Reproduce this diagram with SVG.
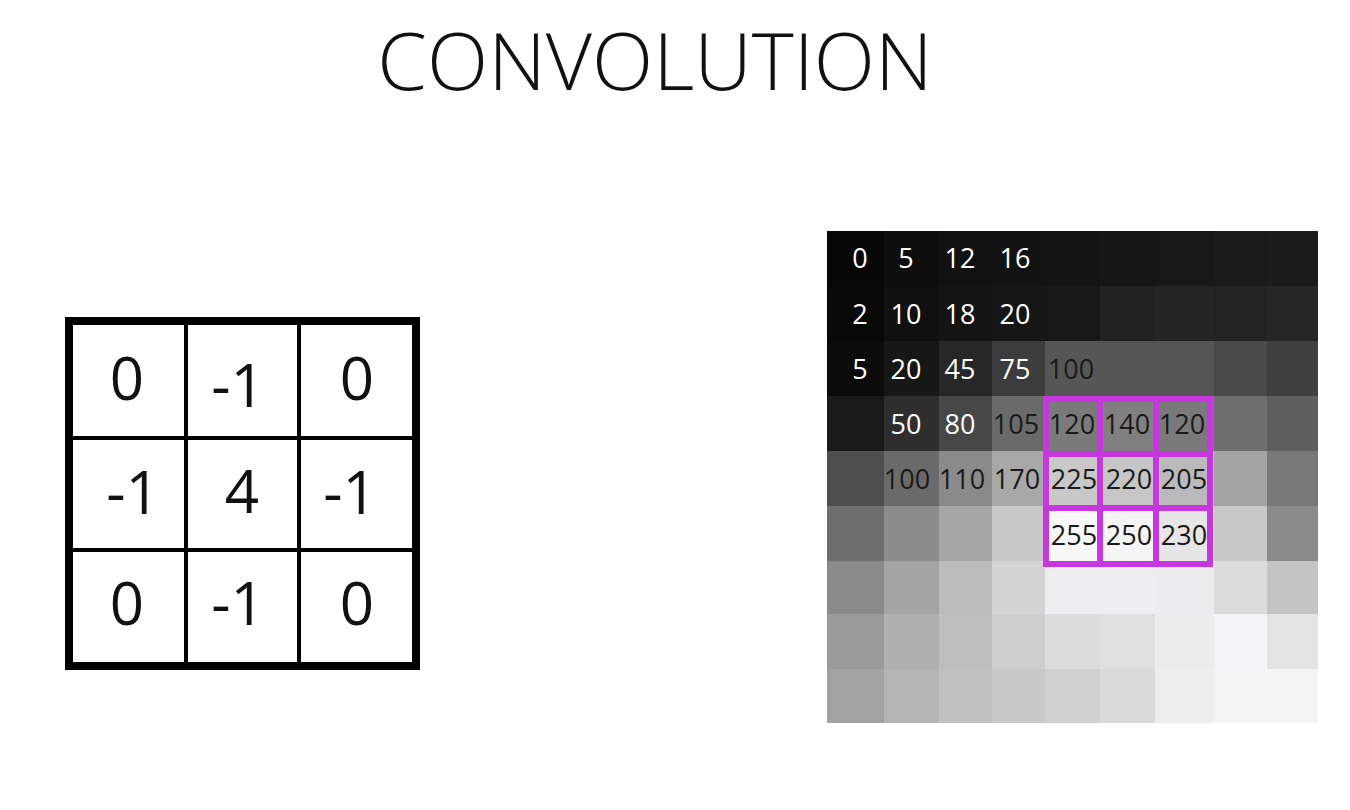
<svg xmlns="http://www.w3.org/2000/svg" width="1350" height="810" viewBox="0 0 1350 810">
<style>
.t{font-family:"Open Sans","Liberation Sans",sans-serif}
.title{font-size:80px;font-weight:300;fill:#111}
.k{font-size:60px;fill:#111;text-anchor:middle}
.n{font-size:27px;text-anchor:middle}
.w{fill:#ffffff}
.d{fill:#1a1a1a}
.kl{stroke:#000;stroke-width:4;fill:none}
.pl{stroke:#c737de;stroke-width:6;fill:none}
</style>
<rect width="1350" height="810" fill="#ffffff"/>
<text class="t title" x="655" y="90" text-anchor="middle">CONVOLUTION</text>

<g id="kernel">
<rect x="69" y="321" width="347" height="345" fill="#ffffff" stroke="#000" stroke-width="8"/>
<line class="kl" x1="186" y1="321" x2="186" y2="666"/>
<line class="kl" x1="299" y1="321" x2="299" y2="666"/>
<line class="kl" x1="69" y1="438" x2="416" y2="438"/>
<line class="kl" x1="69" y1="550" x2="416" y2="550"/>
<text class="t k" x="127" y="400">0</text>
<text class="t k" x="238" y="407">-1</text>
<text class="t k" x="357" y="400">0</text>
<text class="t k" x="133" y="514">-1</text>
<text class="t k" x="242" y="513">4</text>
<text class="t k" x="350" y="514">-1</text>
<text class="t k" x="127" y="625">0</text>
<text class="t k" x="238" y="625">-1</text>
<text class="t k" x="357" y="625">0</text>
</g>

<g id="image">
<g shape-rendering="crispEdges">
<!-- row 0 -->
<rect x="827" y="231" width="57" height="55" fill="#070707"/>
<rect x="884" y="231" width="55" height="55" fill="#0e0e0e"/>
<rect x="939" y="231" width="53" height="55" fill="#111111"/>
<rect x="992" y="231" width="53" height="55" fill="#131313"/>
<rect x="1045" y="231" width="55" height="55" fill="#141414"/>
<rect x="1100" y="231" width="55" height="55" fill="#161616"/>
<rect x="1155" y="231" width="59" height="55" fill="#181818"/>
<rect x="1214" y="231" width="53" height="55" fill="#1a1a1a"/>
<rect x="1267" y="231" width="51" height="55" fill="#1c1c1c"/>
<!-- row 1 -->
<rect x="827" y="286" width="57" height="55" fill="#080808"/>
<rect x="884" y="286" width="55" height="55" fill="#101010"/>
<rect x="939" y="286" width="53" height="55" fill="#141414"/>
<rect x="992" y="286" width="53" height="55" fill="#161616"/>
<rect x="1045" y="286" width="55" height="55" fill="#181818"/>
<rect x="1100" y="286" width="55" height="55" fill="#222222"/>
<rect x="1155" y="286" width="59" height="55" fill="#252525"/>
<rect x="1214" y="286" width="53" height="55" fill="#232323"/>
<rect x="1267" y="286" width="51" height="55" fill="#262626"/>
<!-- row 2 -->
<rect x="827" y="341" width="57" height="55" fill="#0b0b0b"/>
<rect x="884" y="341" width="55" height="55" fill="#171717"/>
<rect x="939" y="341" width="53" height="55" fill="#272727"/>
<rect x="992" y="341" width="53" height="55" fill="#3c3c3c"/>
<rect x="1045" y="341" width="55" height="55" fill="#565656"/>
<rect x="1100" y="341" width="55" height="55" fill="#555555"/>
<rect x="1155" y="341" width="59" height="55" fill="#555555"/>
<rect x="1214" y="341" width="53" height="55" fill="#4a4a4a"/>
<rect x="1267" y="341" width="51" height="55" fill="#404040"/>
<!-- row 3 -->
<rect x="827" y="396" width="57" height="55" fill="#1a1a1a"/>
<rect x="884" y="396" width="55" height="55" fill="#2e2e2e"/>
<rect x="939" y="396" width="53" height="55" fill="#474747"/>
<rect x="992" y="396" width="53" height="55" fill="#6a6a6a"/>
<rect x="1045" y="396" width="55" height="55" fill="#7a7a7a"/>
<rect x="1100" y="396" width="55" height="55" fill="#808080"/>
<rect x="1155" y="396" width="59" height="55" fill="#7a7a7a"/>
<rect x="1214" y="396" width="53" height="55" fill="#6e6e6e"/>
<rect x="1267" y="396" width="51" height="55" fill="#5e5e5e"/>
<!-- row 4 -->
<rect x="827" y="451" width="57" height="55" fill="#4e4e4e"/>
<rect x="884" y="451" width="55" height="55" fill="#6a6a6a"/>
<rect x="939" y="451" width="53" height="55" fill="#8a8a8a"/>
<rect x="992" y="451" width="53" height="55" fill="#a8a8a8"/>
<rect x="1045" y="451" width="55" height="55" fill="#c8c8c8"/>
<rect x="1100" y="451" width="55" height="55" fill="#c6c6c6"/>
<rect x="1155" y="451" width="59" height="55" fill="#bababa"/>
<rect x="1214" y="451" width="53" height="55" fill="#a4a4a4"/>
<rect x="1267" y="451" width="51" height="55" fill="#787878"/>
<!-- row 5 -->
<rect x="827" y="506" width="57" height="55" fill="#6e6e6e"/>
<rect x="884" y="506" width="55" height="55" fill="#8c8c8c"/>
<rect x="939" y="506" width="53" height="55" fill="#a6a6a6"/>
<rect x="992" y="506" width="53" height="55" fill="#c8c8c8"/>
<rect x="1045" y="506" width="55" height="55" fill="#f8f8f8"/>
<rect x="1100" y="506" width="55" height="55" fill="#f4f4f4"/>
<rect x="1155" y="506" width="59" height="55" fill="#e6e6e6"/>
<rect x="1214" y="506" width="53" height="55" fill="#c8c8c8"/>
<rect x="1267" y="506" width="51" height="55" fill="#8a8a8a"/>
<!-- row 6 -->
<rect x="827" y="561" width="57" height="53" fill="#8a8a8a"/>
<rect x="884" y="561" width="55" height="53" fill="#a4a4a4"/>
<rect x="939" y="561" width="53" height="53" fill="#bcbcbc"/>
<rect x="992" y="561" width="53" height="53" fill="#d4d4d4"/>
<rect x="1045" y="561" width="55" height="53" fill="#eeeef0"/>
<rect x="1100" y="561" width="55" height="53" fill="#eeeef0"/>
<rect x="1155" y="561" width="59" height="53" fill="#ececee"/>
<rect x="1214" y="561" width="53" height="53" fill="#dcdcdc"/>
<rect x="1267" y="561" width="51" height="53" fill="#c4c4c4"/>
<!-- row 7 -->
<rect x="827" y="614" width="57" height="55" fill="#9a9a9a"/>
<rect x="884" y="614" width="55" height="55" fill="#b0b0b0"/>
<rect x="939" y="614" width="53" height="55" fill="#bebebe"/>
<rect x="992" y="614" width="53" height="55" fill="#cecece"/>
<rect x="1045" y="614" width="55" height="55" fill="#dcdcdc"/>
<rect x="1100" y="614" width="55" height="55" fill="#e0e0e0"/>
<rect x="1155" y="614" width="59" height="55" fill="#ececec"/>
<rect x="1214" y="614" width="53" height="55" fill="#f4f4f6"/>
<rect x="1267" y="614" width="51" height="55" fill="#e4e4e4"/>
<!-- row 8 -->
<rect x="827" y="669" width="57" height="54" fill="#a2a2a2"/>
<rect x="884" y="669" width="55" height="54" fill="#b4b4b4"/>
<rect x="939" y="669" width="53" height="54" fill="#c0c0c0"/>
<rect x="992" y="669" width="53" height="54" fill="#c8c8c8"/>
<rect x="1045" y="669" width="55" height="54" fill="#d0d0d0"/>
<rect x="1100" y="669" width="55" height="54" fill="#dadada"/>
<rect x="1155" y="669" width="59" height="54" fill="#eeeeef"/>
<rect x="1214" y="669" width="53" height="54" fill="#f4f4f4"/>
<rect x="1267" y="669" width="51" height="54" fill="#f4f4f4"/>
</g>
<g id="values">
<text class="t n w" x="860" y="268">0</text>
<text class="t n w" x="906" y="268">5</text>
<text class="t n w" x="960" y="268">12</text>
<text class="t n w" x="1015" y="268">16</text>
<text class="t n w" x="860" y="324">2</text>
<text class="t n w" x="906" y="324">10</text>
<text class="t n w" x="960" y="324">18</text>
<text class="t n w" x="1015" y="324">20</text>
<text class="t n w" x="860" y="379">5</text>
<text class="t n w" x="906" y="379">20</text>
<text class="t n w" x="960" y="379">45</text>
<text class="t n w" x="1015" y="379">75</text>
<text class="t n d" x="1071" y="379">100</text>
<text class="t n w" x="906" y="434">50</text>
<text class="t n w" x="960" y="434">80</text>
<text class="t n d" x="1016" y="434">105</text>
<text class="t n d" x="1072" y="434">120</text>
<text class="t n d" x="1127" y="434">140</text>
<text class="t n d" x="1182" y="434">120</text>
<text class="t n d" x="907" y="489">100</text>
<text class="t n d" x="962" y="489">110</text>
<text class="t n d" x="1017" y="489">170</text>
<text class="t n d" x="1074" y="489">225</text>
<text class="t n d" x="1129" y="489">220</text>
<text class="t n d" x="1184" y="489">205</text>
<text class="t n d" x="1074" y="545">255</text>
<text class="t n d" x="1129" y="545">250</text>
<text class="t n d" x="1184" y="545">230</text>
</g>
<g id="window">
<rect class="pl" x="1046" y="399" width="164" height="165"/>
<line class="pl" x1="1100" y1="399" x2="1100" y2="564"/>
<line class="pl" x1="1156" y1="399" x2="1156" y2="564"/>
<line class="pl" x1="1046" y1="454" x2="1210" y2="454"/>
<line class="pl" x1="1046" y1="508" x2="1210" y2="508"/>
</g>
</g>
<g id="connectors"></g>
</svg>
